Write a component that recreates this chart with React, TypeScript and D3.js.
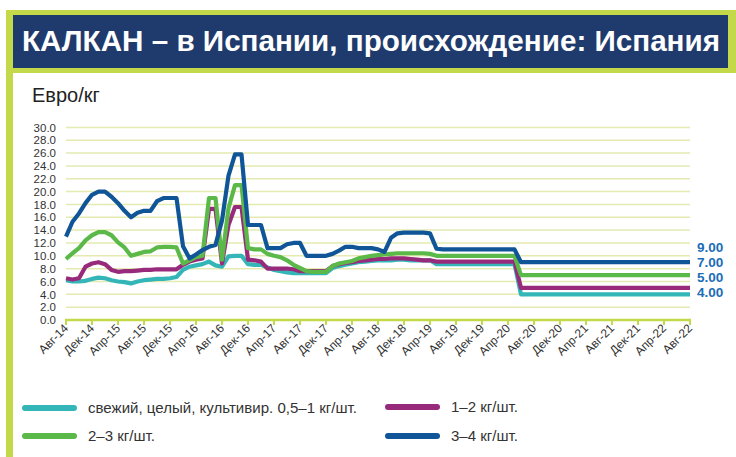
import React, { useEffect, useRef } from "react";
import * as d3 from "d3";

// Monthly prices, Aug-2014 .. Aug-2022 (97 points), EUR/kg
const seriesSmall = [
  6.2, 6.0, 6.0, 6.1, 6.4, 6.6, 6.5, 6.2, 6.0, 5.9, 5.7, 6.0, 6.2, 6.3, 6.4, 6.4,
  6.5, 6.7, 7.8, 8.3, 8.5, 8.7, 9.1, 8.5, 8.3, 9.9, 10.0, 10.0, 8.7, 8.6, 8.6, 8.2,
  7.8, 7.6, 7.4, 7.3, 7.3, 7.3, 7.3, 7.3, 7.3, 8.1, 8.4, 8.6, 8.8, 9.0, 9.1, 9.2,
  9.3, 9.3, 9.3, 9.4, 9.4, 9.3, 9.3, 9.3, 9.3, 8.7, 8.7, 8.7, 8.7, 8.7, 8.7, 8.7,
  8.7, 8.7, 8.7, 8.7, 8.7, 8.7, 4, 4, 4, 4, 4, 4, 4, 4, 4, 4,
  4, 4, 4, 4, 4, 4, 4, 4, 4, 4, 4, 4, 4, 4, 4, 4, 4,
];
const series12 = [
  6.5, 6.3, 6.5, 8.3, 8.8, 9.0, 8.7, 7.8, 7.5, 7.6, 7.6, 7.7, 7.8, 7.8, 7.9, 7.9,
  7.9, 7.9, 8.6, 9.1, 9.4, 9.6, 17.3, 17.3, 8.8, 14.8, 17.6, 17.6, 9.4, 9.3, 9.1, 8.0,
  8.0, 8.0, 8.0, 7.9, 7.6, 7.6, 7.6, 7.6, 7.6, 8.4, 8.7, 8.9, 9.0, 9.2, 9.3, 9.4,
  9.5, 9.5, 9.6, 9.6, 9.6, 9.5, 9.4, 9.3, 9.3, 9.1, 9.1, 9.1, 9.1, 9.1, 9.1, 9.1,
  9.1, 9.1, 9.1, 9.1, 9.1, 9.1, 5, 5, 5, 5, 5, 5, 5, 5, 5, 5,
  5, 5, 5, 5, 5, 5, 5, 5, 5, 5, 5, 5, 5, 5, 5, 5, 5,
];
const series23 = [
  9.5, 10.4, 11.2, 12.4, 13.2, 13.7, 13.7, 13.2, 12.1, 11.3, 10.0, 10.3, 10.6, 10.7, 11.3, 11.4,
  11.4, 11.3, 8.8, 9.3, 9.8, 10.0, 19.0, 19.0, 9.4, 17.4, 21.0, 21.0, 11.2, 11.0, 11.0, 10.3,
  10.0, 9.8, 9.3, 8.6, 8.1, 7.6, 7.5, 7.5, 7.5, 8.4, 8.8, 9.0, 9.2, 9.6, 9.8, 10.0,
  10.1, 10.2, 10.3, 10.4, 10.4, 10.4, 10.4, 10.4, 10.3, 10.0, 10.0, 10.0, 10.0, 10.0, 10.0, 10.0,
  10.0, 10.0, 10.0, 10.0, 10.0, 10.0, 7, 7, 7, 7, 7, 7, 7, 7, 7, 7,
  7, 7, 7, 7, 7, 7, 7, 7, 7, 7, 7, 7, 7, 7, 7, 7, 7,
];
const series34 = [
  13.0, 15.3, 16.6, 18.2, 19.5, 20.0, 20.0, 19.2, 18.2, 17.0, 16.0, 16.7, 17.0, 17.0, 18.5, 19.0,
  19.0, 19.0, 11.5, 9.6, 10.2, 10.9, 11.4, 11.7, 15.5, 22.5, 25.8, 25.8, 14.8, 14.8, 14.8, 11.2,
  11.2, 11.2, 11.8, 12.0, 12.0, 10.0, 10.0, 10.0, 10.0, 10.3, 10.8, 11.4, 11.4, 11.2, 11.2, 11.2,
  11.0, 10.6, 12.8, 13.5, 13.6, 13.6, 13.6, 13.6, 13.5, 11.1, 11.0, 11.0, 11.0, 11.0, 11.0, 11.0,
  11.0, 11.0, 11.0, 11.0, 11.0, 11.0, 9, 9, 9, 9, 9, 9, 9, 9, 9, 9,
  9, 9, 9, 9, 9, 9, 9, 9, 9, 9, 9, 9, 9, 9, 9, 9, 9,
];

const tickLabels = [
  "Авг-14", "Дек-14", "Апр-15", "Авг-15", "Дек-15", "Апр-16", "Авг-16", "Дек-16",
  "Апр-17", "Авг-17", "Дек-17", "Апр-18", "Авг-18", "Дек-18", "Апр-19", "Авг-19",
  "Дек-19", "Апр-20", "Авг-20", "Дек-20", "Апр-21", "Авг-21", "Дек-21", "Апр-22", "Авг-22",
];
const yTicks = [0, 2, 4, 6, 8, 10, 12, 14, 16, 18, 20, 22, 24, 26, 28, 30];
const endLabels = ["9.00", "7.00", "5.00", "4.00"];

const legendNames = [
  "свежий, целый, культивир. 0,5–1 кг/шт.",
  "1–2 кг/шт.",
  "2–3 кг/шт.",
  "3–4 кг/шт.",
];
const colors = ["#34b6b8", "#982a7c", "#5bb94a", "#0f5597"];

const W = 736;
const H = 457;
const narrow = "'Liberation Sans Narrow', 'Arial Narrow', 'Liberation Sans', Arial, sans-serif";
const sans = "'Liberation Sans', Arial, sans-serif";

const App = () => {
  const svgRef = useRef(null);

  useEffect(() => {
    const svg = d3.select(svgRef.current);
    svg.selectAll("*").remove();

    const x = d3.scaleLinear().domain([0, 96]).range([66, 690]);
    const y = d3.scaleLinear().domain([0, 30]).range([320, 127.4]);

    // frame and title band
    svg.append("rect").attr("x", 6).attr("y", 10).attr("width", W - 6).attr("height", 63).attr("fill", "#c3d94a");
    svg.append("rect").attr("x", 6).attr("y", 10).attr("width", 7).attr("height", H - 10).attr("fill", "#c3d94a");
    svg.append("rect").attr("x", 13).attr("y", 15).attr("width", 715).attr("height", 53).attr("fill", "#1f3b6d");
    svg
      .append("text")
      .attr("x", 22)
      .attr("y", 51)
      .attr("fill", "#fff")
      .attr("font-family", narrow)
      .attr("font-weight", "bold")
      .attr("font-size", 30)
      .attr("textLength", 698)
      .attr("lengthAdjust", "spacingAndGlyphs")
      .text("КАЛКАН – в Испании, происхождение: Испания");

    svg
      .append("text")
      .attr("x", 32)
      .attr("y", 102)
      .attr("fill", "#222")
      .attr("font-family", sans)
      .attr("font-size", 20)
      .text("Евро/кг");

    // grid
    svg
      .append("g")
      .selectAll("line")
      .data(yTicks.filter((d) => d > 0))
      .enter()
      .append("line")
      .attr("x1", x(0))
      .attr("x2", x(96))
      .attr("y1", (d) => y(d))
      .attr("y2", (d) => y(d))
      .attr("stroke", "#e4eab0")
      .attr("stroke-width", 1.5);

    const yAxis = d3.axisLeft(y).tickValues(yTicks).tickFormat(d3.format(".1f")).tickSize(0).tickPadding(10);
    const gy = svg.append("g").attr("transform", `translate(${x(0)},0)`).call(yAxis);
    gy.select(".domain").remove();
    gy.selectAll("text").attr("font-family", sans).attr("font-size", 11.5).attr("fill", "#333");

    // bottom axis
    const tickIdx = tickLabels.map((_, i) => i * 4);
    const gx = svg.append("g").attr("transform", `translate(0,${y(0)})`);
    gx.append("line").attr("x1", x(0) - 1).attr("x2", x(96) + 1).attr("stroke", "#c3d94a").attr("stroke-width", 2.5);
    gx.selectAll("line.tk")
      .data(tickIdx)
      .enter()
      .append("line")
      .attr("class", "tk")
      .attr("x1", (d) => x(d))
      .attr("x2", (d) => x(d))
      .attr("y1", 0)
      .attr("y2", 5)
      .attr("stroke", "#c3d94a")
      .attr("stroke-width", 2);
    gx.selectAll("text")
      .data(tickIdx)
      .enter()
      .append("text")
      .attr("transform", (d) => `translate(${x(d) + 3},${9}) rotate(-45)`)
      .attr("text-anchor", "end")
      .attr("font-family", sans)
      .attr("font-size", 12)
      .attr("fill", "#333")
      .text((d, i) => tickLabels[i]);

    // lines
    const line = d3
      .line()
      .x((d, i) => x(i))
      .y((d) => y(d))
      .curve(d3.curveLinear);
    const allSeries = [seriesSmall, series12, series23, series34];
    allSeries.forEach((s, k) => {
      svg
        .append("path")
        .attr("d", line(s))
        .attr("fill", "none")
        .attr("stroke", colors[k])
        .attr("stroke-width", 4.2)
        .attr("stroke-linejoin", "round")
        .attr("stroke-linecap", "butt");
    });

    // end value labels
    svg
      .append("g")
      .selectAll("text")
      .data(endLabels)
      .enter()
      .append("text")
      .attr("x", 697)
      .attr("y", (d, i) => 251.5 + i * 15)
      .attr("font-family", sans)
      .attr("font-weight", "bold")
      .attr("font-size", 13.5)
      .attr("fill", "#1b6db8")
      .text((d) => d);

    // legend
    const legendPos = [
      [22, 408],
      [385, 407],
      [22, 436],
      [385, 436],
    ];
    const legendWidths = [269, 67, 67, 67];
    legendNames.forEach((name, k) => {
      const [lx, ly] = legendPos[k];
      svg
        .append("line")
        .attr("x1", lx + 3)
        .attr("x2", lx + 52)
        .attr("y1", ly)
        .attr("y2", ly)
        .attr("stroke", colors[k])
        .attr("stroke-width", 6)
        .attr("stroke-linecap", "round");
      svg
        .append("text")
        .attr("x", lx + 66)
        .attr("y", ly + 5)
        .attr("font-family", narrow)
        .attr("font-size", 14.5)
        .attr("fill", "#333")
        .attr("textLength", legendWidths[k])
        .attr("lengthAdjust", "spacingAndGlyphs")
        .text(name);
    });
  }, []);

  return (
    <svg
      ref={svgRef}
      width={W}
      height={H}
      style={{ position: "absolute", left: 0, top: 0, background: "#fff" }}
    ></svg>
  );
};

export default App;
